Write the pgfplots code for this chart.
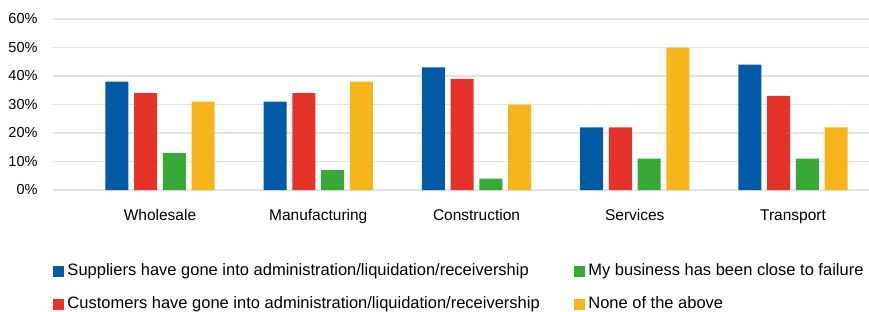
\documentclass[border=0pt]{standalone}
\usepackage{fontspec}
\setmainfont{Liberation Sans}
\usepackage{pgfplots}
\pgfplotsset{compat=1.18}
\definecolor{cblue}{HTML}{005AA5}
\definecolor{cred}{HTML}{E5332A}
\definecolor{cgreen}{HTML}{36A936}
\definecolor{cyellow}{HTML}{F7B51B}
\definecolor{cgrid}{HTML}{E3E3E3}
\begin{document}
\begin{tikzpicture}
\begin{axis}[
  scale only axis, width=816pt, height=171pt,
  at={(0,0)}, anchor=south west,
  ybar=5.7pt, bar width=23pt,
  xmin=-0.676, xmax=4.48, ymin=0, ymax=60,
  axis line style={draw=none},
  major tick length=0pt,
  ymajorgrids, grid style={draw=cgrid, line width=1.3pt},
  ytick={0,10,20,30,40,50,60},
  yticklabel={\pgfmathprintnumber{\tick}\%},
  /pgf/number format/assume math mode=true,
  yticklabel style={font=\fontsize{14.5}{17}\selectfont, xshift=-12pt},
  xtick={0,1,2,3,4},
  xticklabels={Wholesale,Manufacturing,Construction,Services,Transport},
  xticklabel style={font=\fontsize{15.5}{18}\selectfont, yshift=-16pt},
  legend columns=2, transpose legend, legend cell align=left,
  legend image code/.code={\fill[#1] (0pt,-5.5pt) rectangle (11pt,5.5pt);},
  legend style={at={(axis description cs:0,-0.422)}, anchor=north west,
    draw=none, fill=none, inner sep=0pt, outer sep=0pt,
    font=\fontsize{16.5}{19}\selectfont, row sep=15pt,
    nodes={text height=12pt, text depth=4pt, inner sep=1pt},
    /tikz/every odd column/.append style={column sep=2.5pt},
    /tikz/every even column/.append style={column sep=33pt}},
]
\addplot[fill=cblue, draw=none] coordinates {(0,38) (1,31) (2,43) (3,22) (4,44)};
\addplot[fill=cred, draw=none] coordinates {(0,34) (1,34) (2,39) (3,22) (4,33)};
\addplot[fill=cgreen, draw=none] coordinates {(0,13) (1,7) (2,4) (3,11) (4,11)};
\addplot[fill=cyellow, draw=none] coordinates {(0,31) (1,38) (2,30) (3,50) (4,22)};
\legend{Suppliers have gone into administration/liquidation/receivership,
Customers have gone into administration/liquidation/receivership,
My business has been close to failure,
None of the above}
\end{axis}
\pgfresetboundingbox
\path (-53pt,-121pt) rectangle (816pt,190pt);
\end{tikzpicture}
\end{document}
